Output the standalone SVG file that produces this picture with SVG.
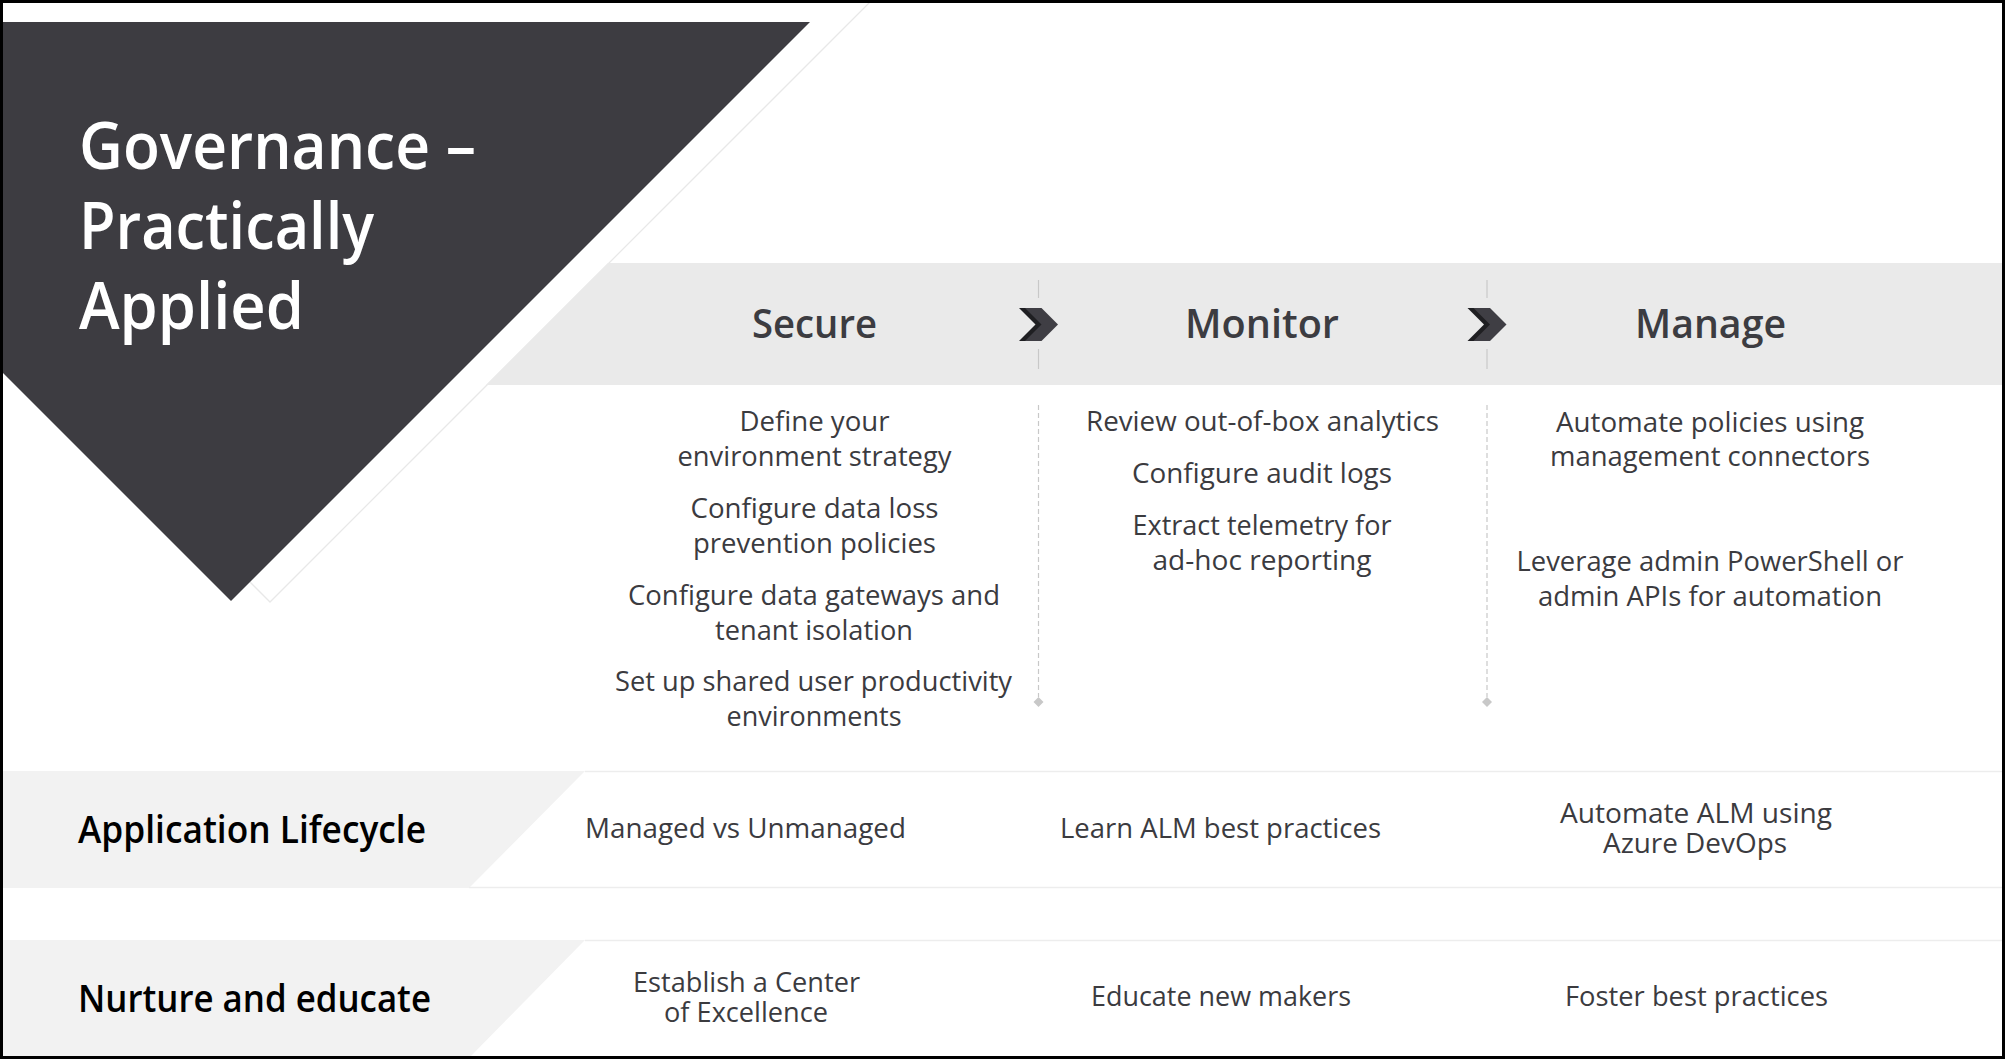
<svg xmlns="http://www.w3.org/2000/svg" width="2005" height="1060" viewBox="0 0 2005 1060">
<style>
text{font-family:"Open Sans","Noto Sans","Liberation Sans",sans-serif}
.title{fill:#ffffff;font-size:66px;font-weight:600}
.head{fill:#3c3c41;font-size:40px;font-weight:600;text-anchor:middle}
.body{fill:#3b3b3f;font-size:27px;text-anchor:middle}
.row{fill:#000000;font-size:37px;font-weight:600}
.div{stroke:#c8c8c8;stroke-width:1.2;fill:none}
.dash{stroke:#c8c8c8;stroke-width:1.2;stroke-dasharray:5 3;fill:none}
.sep{stroke:#ededed;stroke-width:1.5;fill:none}
</style>
<defs>
<g id="chev">
<polygon points="-19.5,-16.5 -3,-16.5 13.5,0 -3,16.5 -19.5,16.5 -3,0" fill="#1f1f22"/>
<polygon points="-13.5,-16.5 3,-16.5 19.5,0 3,16.5 -13.5,16.5 3,0" fill="#3f3e44"/>
</g>
<polygon id="dia" points="0,-5 5,0 0,5 -5,0" fill="#c8c8c8"/>
</defs>
<rect x="0" y="0" width="2005" height="1060" fill="#ffffff"/>
<g id="background">
<polyline points="0,332 270,602 872,0" fill="none" stroke="#e8e8e8" stroke-width="1.3"/>
<polygon points="608,263 2003,263 2003,385 486,385" fill="#eaeaea"/>
</g>
<g id="title">
<polygon points="0,22 810,22 231,601 0,370" fill="#3d3c41"/>
<text class="title" x="79" y="169" textLength="397" lengthAdjust="spacingAndGlyphs">Governance –</text>
<text class="title" x="79" y="249" textLength="295" lengthAdjust="spacingAndGlyphs">Practically</text>
<text class="title" x="79" y="329" textLength="225" lengthAdjust="spacingAndGlyphs">Applied</text>
</g>
<g id="secure">
<text class="head" x="814.5" y="338" textLength="125" lengthAdjust="spacingAndGlyphs">Secure</text>
<text class="body" x="814.5" y="431" textLength="150" lengthAdjust="spacingAndGlyphs">Define your</text>
<text class="body" x="814.5" y="466" textLength="274" lengthAdjust="spacingAndGlyphs">environment strategy</text>
<text class="body" x="814.5" y="518" textLength="248" lengthAdjust="spacingAndGlyphs">Configure data loss</text>
<text class="body" x="814.5" y="553" textLength="243" lengthAdjust="spacingAndGlyphs">prevention policies</text>
<text class="body" x="814" y="605" textLength="372" lengthAdjust="spacingAndGlyphs">Configure data gateways and</text>
<text class="body" x="814" y="640" textLength="198" lengthAdjust="spacingAndGlyphs">tenant isolation</text>
<text class="body" x="813.5" y="691" textLength="397" lengthAdjust="spacingAndGlyphs">Set up shared user productivity</text>
<text class="body" x="814" y="726" textLength="175" lengthAdjust="spacingAndGlyphs">environments</text>
</g>
<g id="monitor">
<text class="head" x="1262" y="338" textLength="154" lengthAdjust="spacingAndGlyphs">Monitor</text>
<text class="body" x="1262.5" y="431" textLength="353" lengthAdjust="spacingAndGlyphs">Review out-of-box analytics</text>
<text class="body" x="1262" y="483" textLength="260" lengthAdjust="spacingAndGlyphs">Configure audit logs</text>
<text class="body" x="1262" y="535" textLength="259" lengthAdjust="spacingAndGlyphs">Extract telemetry for</text>
<text class="body" x="1262" y="570" textLength="219" lengthAdjust="spacingAndGlyphs">ad-hoc reporting</text>
</g>
<g id="manage">
<text class="head" x="1710.5" y="338" textLength="151" lengthAdjust="spacingAndGlyphs">Manage</text>
<text class="body" x="1710" y="432" textLength="308" lengthAdjust="spacingAndGlyphs">Automate policies using</text>
<text class="body" x="1710" y="466" textLength="320" lengthAdjust="spacingAndGlyphs">management connectors</text>
<text class="body" x="1710" y="571" textLength="387" lengthAdjust="spacingAndGlyphs">Leverage admin PowerShell or</text>
<text class="body" x="1710" y="606" textLength="344" lengthAdjust="spacingAndGlyphs">admin APIs for automation</text>
</g>
<g id="row-alm">
<polygon points="0,771 585,771 469,888 0,888" fill="#f2f2f2"/>
<line class="sep" x1="585" y1="771.5" x2="2003" y2="771.5"/>
<line class="sep" x1="469" y1="887.5" x2="2003" y2="887.5"/>
<text class="row" x="78" y="843" textLength="348" lengthAdjust="spacingAndGlyphs">Application Lifecycle</text>
<text class="body" x="745.5" y="838" textLength="321" lengthAdjust="spacingAndGlyphs">Managed vs Unmanaged</text>
<text class="body" x="1220.5" y="838" textLength="321" lengthAdjust="spacingAndGlyphs">Learn ALM best practices</text>
<text class="body" x="1696" y="823" textLength="272" lengthAdjust="spacingAndGlyphs">Automate ALM using</text>
<text class="body" x="1695" y="853" textLength="184" lengthAdjust="spacingAndGlyphs">Azure DevOps</text>
</g>
<g id="row-nurture">
<polygon points="0,940 585,940 469,1058 0,1058" fill="#f2f2f2"/>
<line class="sep" x1="585" y1="940.5" x2="2003" y2="940.5"/>
<text class="row" x="78" y="1012" textLength="353" lengthAdjust="spacingAndGlyphs">Nurture and educate</text>
<text class="body" x="746.5" y="992" textLength="227" lengthAdjust="spacingAndGlyphs">Establish a Center</text>
<text class="body" x="746" y="1022" textLength="164" lengthAdjust="spacingAndGlyphs">of Excellence</text>
<text class="body" x="1221" y="1006" textLength="260" lengthAdjust="spacingAndGlyphs">Educate new makers</text>
<text class="body" x="1696.5" y="1006" textLength="263" lengthAdjust="spacingAndGlyphs">Foster best practices</text>
</g>
<g id="connectors">
<line class="div" x1="1038.5" y1="280" x2="1038.5" y2="298"/>
<line class="div" x1="1038.5" y1="349" x2="1038.5" y2="369"/>
<use href="#chev" x="1038.5" y="324.5"/>
<line class="dash" x1="1038.5" y1="405" x2="1038.5" y2="697"/>
<use href="#dia" x="1038.5" y="702"/>
<line class="div" x1="1487" y1="280" x2="1487" y2="298"/>
<line class="div" x1="1487" y1="349" x2="1487" y2="369"/>
<use href="#chev" x="1487" y="324.5"/>
<line class="dash" x1="1487" y1="405" x2="1487" y2="697"/>
<use href="#dia" x="1487" y="702"/>
</g>
<rect x="1.5" y="1.5" width="2002" height="1056" fill="none" stroke="#000000" stroke-width="3"/>
</svg>
